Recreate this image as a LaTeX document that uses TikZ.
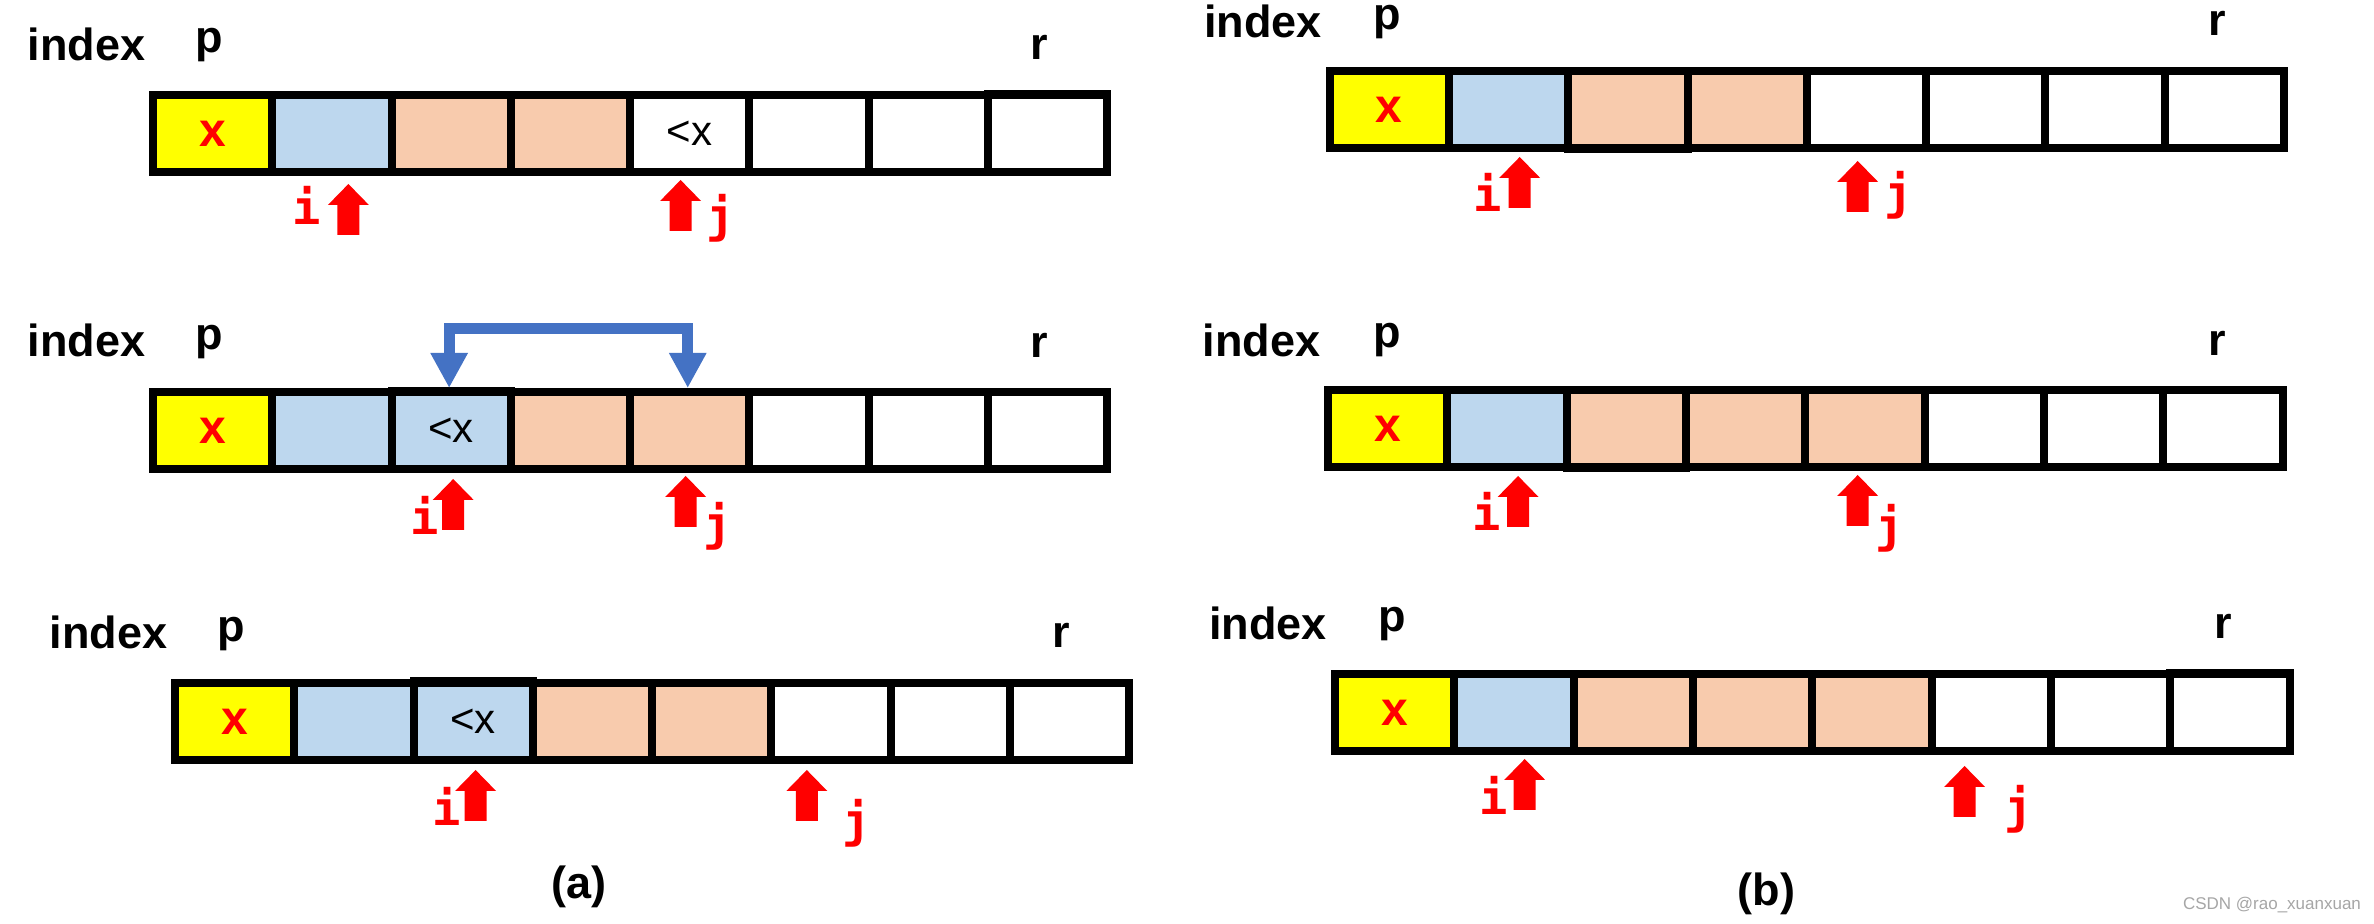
\documentclass[tikz,border=0pt]{standalone}
\usepackage{fontspec}
\setmainfont{Liberation Sans}
\newfontfamily\monofam{DejaVu Sans Mono}
\usetikzlibrary{arrows.meta}
\definecolor{cyel}{HTML}{FFFF00}
\definecolor{cblu}{HTML}{BDD7EE}
\definecolor{cpea}{HTML}{F8CBAD}
\definecolor{cwht}{HTML}{FFFFFF}
\definecolor{cred}{HTML}{FF0000}
\definecolor{cswap}{HTML}{4472C4}
\newcommand\redx{{\color{cred}\fontsize{24pt}{24pt}\selectfont\bfseries x}}
\newcommand\ltx{{\fontsize{21pt}{21pt}\selectfont <x}}
\tikzset{
 cellbox/.style={draw=black, line width=4pt, minimum width=59.65pt, minimum height=38.5pt, inner sep=0pt, anchor=center},
 lbl/.style={font=\fontsize{22.5pt}{22.5pt}\selectfont\bfseries, inner sep=0pt},
 ptrlbl/.style={font=\monofam\bfseries\fontsize{23.5pt}{23.5pt}\selectfont, text=cred, inner sep=0pt},
 uparrow/.pic={\fill[cred] (0,0)--(20.5,21)--(11,21)--(11,51)--(-11,51)--(-11,21)--(-20.5,21)--cycle;},
 swaparrow/.style={draw=cswap, line width=5.5pt, {Triangle[width=17.5pt,length=17.5pt]}-{Triangle[width=17.5pt,length=17.5pt]}}
}
\newcommand\cellrow[4]{\foreach \f/\t [count=\k] in {#4}{\node[cellbox, fill=\f] (#1c\k) at ({#2+4+(\k-0.5)*119.3},{#3+42.5}) {\t};}}
\newcommand\rowlabels[7]{\node[lbl] (#1idx) at (#2,#3) {index}; \node[lbl] (#1p) at (#4,#5) {p}; \node[lbl] (#1r) at (#6,#7) {r};}
\newcommand\ptrmark[6]{\pic at (#2,#3) {uparrow}; \node[ptrlbl] (#1) at (#4,#5) {#6};}
\begin{document}
\begin{tikzpicture}[x=0.5pt,y=-0.5pt]
\fill[white] (0,0) rectangle (2374,924);
\path[use as bounding box] (0,0) rectangle (2374,924);
% ---------- panel (a) ----------
\rowlabels{a1}{86.6}{44.5}{209.4}{45.5}{1039.6}{47.5}
\cellrow{a1}{148.9}{91}{cyel/\redx, cblu/, cpea/, cpea/, cwht/\ltx, cwht/, cwht/, cwht/}
\fill[black] (a1c8.north west) rectangle ([yshift=0.7pt]a1c8.north east);
\ptrmark{a1i}{348.4}{184}{306.2}{205}{i}
\ptrmark{a1j}{680.6}{180}{720.2}{218}{j}

\rowlabels{a2}{86.6}{340.5}{209.4}{342.5}{1039.6}{345}
\cellrow{a2}{148.9}{388}{cyel/\redx, cblu/, cblu/\ltx, cpea/, cpea/, cwht/, cwht/, cwht/}
\fill[black] (a2c3.north west) rectangle ([yshift=0.7pt]a2c3.north east);
\ptrmark{a2i}{453.2}{479}{424.3}{515}{i}
\ptrmark{a2j}{685.7}{476}{717.3}{526.5}{j}
\draw[swaparrow] ([xshift=-1pt]a2c3.north) -- ++(0,-59) -| ([xshift=-1pt]a2c5.north);

\rowlabels{a3}{108.5}{632.5}{231.4}{634}{1061.2}{635.5}
\cellrow{a3}{170.9}{679}{cyel/\redx, cblu/, cblu/\ltx, cpea/, cpea/, cwht/, cwht/, cwht/}
\fill[black] (a3c3.north west) rectangle ([yshift=0.8pt]a3c3.north east);
\ptrmark{a3i}{475.6}{770}{446.3}{806.5}{i}
\ptrmark{a3j}{806.8}{770}{856.6}{823}{j}
\node[lbl] (capa) at (578.7,886.5) {(a)};
% ---------- panel (b) ----------
\rowlabels{b1}{1263.2}{21}{1387.3}{22}{2217.1}{23.5}
\cellrow{b1}{1325.6}{67}{cyel/\redx, cblu/, cpea/, cpea/, cwht/, cwht/, cwht/, cwht/}
\fill[black] (b1c3.south west) rectangle ([yshift=-0.6pt]b1c3.south east);
\ptrmark{b1i}{1519.7}{157}{1487.6}{192.5}{i}
\ptrmark{b1j}{1857.7}{161}{1898.2}{195}{j}

\rowlabels{b2}{1261.6}{340}{1386.9}{340.5}{2217.1}{343}
\cellrow{b2}{1324.1}{386}{cyel/\redx, cblu/, cpea/, cpea/, cpea/, cwht/, cwht/, cwht/}
\fill[black] (b2c3.south west) rectangle ([yshift=-0.6pt]b2c3.south east);
\ptrmark{b2i}{1518.1}{476}{1486.5}{511.5}{i}
\ptrmark{b2j}{1857.7}{475}{1890}{528}{j}

\rowlabels{b3}{1268.2}{623.5}{1392}{624.5}{2223.4}{626.5}
\cellrow{b3}{1331.1}{670}{cyel/\redx, cblu/, cpea/, cpea/, cpea/, cwht/, cwht/, cwht/}
\fill[black] (b3c8.north west) rectangle ([yshift=0.6pt]b3c8.north east);
\ptrmark{b3i}{1524.7}{759}{1493.5}{795.5}{i}
\ptrmark{b3j}{1964.6}{766}{2018.5}{809.5}{j}
\node[lbl] (capb) at (1766.7,893.5) {(b)};
\node[font=\fontsize{8.5pt}{8.5pt}\selectfont, text=gray!70, inner sep=0pt] (wm) at (2272,905.5) {CSDN @rao\_xuanxuan};
\end{tikzpicture}
\end{document}
